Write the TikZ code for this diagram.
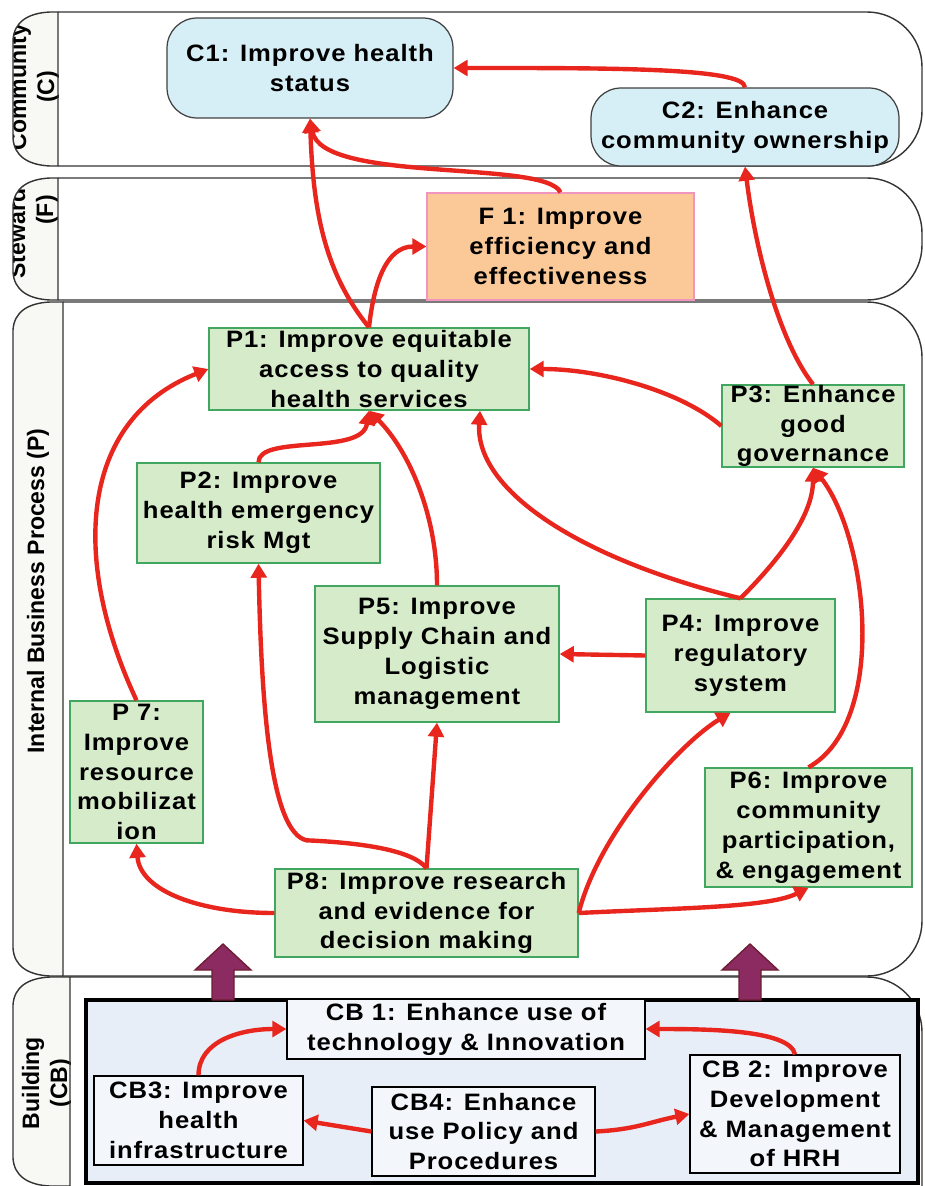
\documentclass[tikz,border=0pt]{standalone}
\usepackage{fontspec}
\setmainfont{Liberation Sans}
\newfontfamily\boxfont{Liberation Sans}[FakeStretch=1.08, LetterSpace=4]
\newfontfamily\lanefont{Liberation Sans}[FakeStretch=0.97]
\usetikzlibrary{arrows.meta}

\definecolor{arrowred}{RGB}{232,38,30}
\definecolor{boxgreen}{RGB}{213,235,202}
\definecolor{edgegreen}{RGB}{64,166,96}
\definecolor{goalblue}{RGB}{214,238,245}
\definecolor{effpeach}{RGB}{251,201,152}
\definecolor{effpink}{RGB}{240,150,190}
\definecolor{cbfill}{RGB}{231,238,248}
\definecolor{blockpurple}{RGB}{140,42,98}
\definecolor{blockedge}{RGB}{110,30,50}
\definecolor{capfill}{RGB}{248,248,244}

\tikzset{flow/.style = {draw=arrowred, line width=2.5pt, -{Triangle[length=8pt,width=9pt]}}}
\tikzset{boxtext/.style = {align=center, inner sep=0pt, font=\boxfont\bfseries\fontsize{13.5}{17}\selectfont}}
\tikzset{cnode/.style = {boxtext, draw=black!75, fill=goalblue, rounded corners=0.6cm, line width=0.7pt}}
\tikzset{fnode/.style = {boxtext, draw=effpink, fill=effpeach, line width=0.7pt}}
\tikzset{pnode/.style = {boxtext, draw=edgegreen, fill=boxgreen, line width=0.8pt}}
\tikzset{cbnode/.style = {boxtext, draw=black, fill=cbfill!50!white, line width=0.7pt}}
\tikzset{laneline/.style = {draw=black!80, line width=0.8pt}}
\tikzset{lanelabel/.style = {rotate=90, align=center, font=\lanefont\bfseries\fontsize{13.5}{16}\selectfont}}
\tikzset{bigarrow/.style = {fill=blockpurple, draw=blockedge, line width=0.8pt}}

\begin{document}
\begin{tikzpicture}[x=0.02cm, y=0.02cm]
  \useasboundingbox (0,0) rectangle (925,-1186);

  % lanes
  \draw[laneline, rounded corners=1.1cm] (58,-12) -- (922,-12) -- (922,-166) -- (58,-166);
  \draw[laneline, rounded corners=1.1cm] (58,-178) -- (922,-178) -- (922,-300) -- (58,-300);
  \draw[laneline, rounded corners=1.1cm] (63,-302) -- (922,-302) -- (922,-976) -- (63,-976);
  \draw[laneline, rounded corners=1.1cm] (70,-977) -- (922,-977) -- (922,-1186);

  \foreach \n/\t/\b/\d/\lx/\ly/\txt in {lc/-12/-166/58/34/-87/{Community\\(C)},
      lf/-178/-300/58/33/-210/{Stewardship\\(F)},
      lp/-302/-976/63/38/-591/{Internal Business Process (P)},
      lcb/-977/-1186/70/47/-1083/{Building\\(CB)}}
  {
    \def\cap{(\d,\t) -- (50,\t) .. controls (28,\t-1) and (14,\t-10) .. (13,\t-28)
        -- (13,\b+28) .. controls (14,\b+10) and (28,\b+1) .. (50,\b) -- (\d,\b) -- cycle}
    \begin{scope}
      \clip \cap;
      \fill[capfill] \cap;
      \node[lanelabel] (\n) at (\lx,\ly) {\txt};
    \end{scope}
    \draw[laneline] \cap;
  }

  % capacity building frame
  \draw[line width=2.6pt, fill=cbfill] (86,-1000) rectangle (918,-1183);
  \foreach \x in {223,750}
    \draw[bigarrow] (\x-11,-1000) -- (\x-11,-970) -- (\x-28,-970) -- (\x,-944) -- (\x+28,-970) -- (\x+11,-970) -- (\x+11,-1000) -- cycle;

  % objectives
  \node[cnode, minimum width=5.72cm, minimum height=2cm] (C1) at (310,-68) {C1: Improve health\\status};
  \node[cnode, minimum width=6.16cm, minimum height=1.56cm] (C2) at (745,-127) {C2: Enhance\\community ownership};

  \node[fnode, minimum width=5.34cm, minimum height=2.14cm] (F1) at (560.5,-246.5) {F 1: Improve\\efficiency and\\effectiveness};

  \node[pnode, minimum width=6.4cm, minimum height=1.64cm] (P1) at (369,-369) {P1: Improve equitable\\access to quality\\health services};
  \node[pnode, minimum width=3.64cm, minimum height=1.56cm] (P3) at (813,-426) {P3: Enhance\\good\\governance};
  \node[pnode, minimum width=4.86cm, minimum height=2cm] (P2) at (258.5,-513) {P2: Improve\\health emergency\\risk Mgt};
  \node[pnode, minimum width=4.88cm, minimum height=2.72cm] (P5) at (437,-654) {P5: Improve\\Supply Chain and\\Logistic\\management};
  \node[pnode, minimum width=3.78cm, minimum height=2.26cm] (P4) at (740.5,-655.5) {P4: Improve\\regulatory\\system};
  \node[pnode, minimum width=2.66cm, minimum height=2.84cm] (P7) at (136.5,-772) {P 7:\\Improve\\resource\\mobilizat\\ion};
  \node[pnode, minimum width=4.14cm, minimum height=2.38cm] (P6) at (808.5,-827.5) {P6: Improve\\community\\participation,\\\& engagement};
  \node[pnode, minimum width=6.06cm, minimum height=1.76cm] (P8) at (426.5,-913) {P8: Improve research\\and evidence for\\decision making};

  \node[cbnode, minimum width=7.16cm, minimum height=1.2cm] (CB1) at (466,-1029) {CB 1: Enhance use of\\technology \& Innovation};
  \node[cbnode, minimum width=4.18cm, minimum height=1.78cm] (CB3) at (198.5,-1120.5) {CB3: Improve\\health\\infrastructure};
  \node[cbnode, minimum width=4.46cm, minimum height=1.78cm] (CB4) at (483.5,-1131.5) {CB4: Enhance\\use Policy and\\Procedures};
  \node[cbnode, minimum width=4.2cm, minimum height=2.36cm] (CB2) at (795,-1114) {CB 2: Improve\\Development\\\& Management\\of HRH};

  % links
  \draw[flow] (C2.north) .. controls +(0,20) and +(150,0) .. (C1.east);
  \draw[flow] (F1.north) .. controls +(-15,33) and +(12,-65) .. (C1.south);
  \draw[flow] (P1.north) .. controls +(-45,55) and +(3,-90) .. (C1.south);
  \draw[flow] (P1.north) .. controls +(5,45) and +(-40,0) .. (F1.west);
  \draw[flow] (P3.north) .. controls +(-35,45) and +(10,-80) .. (C2.south);
  \draw[flow] (P3.west) .. controls +(-40,35) and +(70,0) .. (P1.east);
  \draw[flow] (P2.north) .. controls +(0,28) and +(-7,-45) .. (P1.south);
  \draw[flow] (P5.north) .. controls +(0,70) and +(40,-40) .. (P1.south);
  \draw[flow] (P4.north) .. controls +(-160,39) and +(-5,-80) .. ([shift={(111,0)}]P1.south);
  \draw[flow] (P4.north) .. controls +(35,35) and +(0,-50) .. (P3.south);
  \draw[flow] (P6.north) .. controls +(80,45) and +(55,-70) .. (P3.south);
  \draw[flow] (P4.west) -- (P5.east);
  \draw[flow] (P7.north) .. controls +(-66,141) and +(-129,-51) .. (P1.west);
  \draw[flow] (P8.north) .. controls +(-15,20) and +(45,-2) .. ++(-120,28) .. controls +(-35,8) and +(3,-150) .. (P2.south);
  \draw[flow] (P8.north) -- (P5.south);
  \draw[flow] (P8.west) .. controls +(-75,0) and +(3.5,-47) .. (P7.south);
  \draw[flow] (P8.east) .. controls +(20,80) and +(-50,-30) .. ([shift={(-10,0)}]P4.south);
  \draw[flow] (P8.east) .. controls +(100,5) and +(-40,-20) .. (P6.south);

  \draw[flow] (CB3.north) .. controls +(0,35) and +(-45,0) .. (CB1.west);
  \draw[flow] (CB2.north) .. controls +(-5,25) and +(60,0) .. (CB1.east);
  \draw[flow] (CB4.west) -- (CB3.east);
  \draw[flow] (CB4.east) .. controls +(40,2) and +(-40,-8) .. (CB2.west);
\end{tikzpicture}
\end{document}
